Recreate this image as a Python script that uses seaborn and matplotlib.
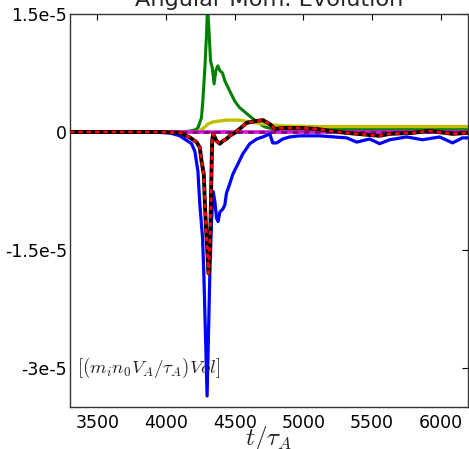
import numpy as np
import pandas as pd
import matplotlib
matplotlib.use("Agg")
import matplotlib.pyplot as plt
import seaborn as sns

# ---- data (values in units of 1e-6) ----
green_t = [3300, 4100, 4173, 4210, 4232, 4258, 4268, 4283, 4295, 4302, 4314, 4324, 4336, 4350,
           4363, 4377, 4392, 4411, 4428, 4464, 4501, 4535, 4610, 4661, 4719, 4777, 5000, 6200]
green_v = [0.0, 0.0, 0.1, 0.25, 0.5, 1.8, 4.0, 8.2, 12.5, 16.0, 12.5, 9.0, 8.2, 6.1,
           7.8, 8.4, 7.8, 7.5, 6.5, 5.2, 3.9, 3.1, 2.0, 1.3, 0.64, 0.38, 0.3, 0.3]

yellow_t = [3300, 4230, 4246, 4283, 4304, 4343, 4440, 4537, 4610, 4705, 4850, 5100, 6200]
yellow_v = [0.0, 0.0, 0.1, 0.64, 1.0, 1.27, 1.5, 1.5, 1.27, 1.0, 0.76, 0.68, 0.68]

blue_t = [3300, 3900, 4028, 4100, 4186, 4210, 4232, 4246, 4266, 4275, 4299, 4319, 4331, 4343,
          4355, 4368, 4379, 4392, 4414, 4428, 4440, 4464, 4486, 4523, 4559, 4610, 4661, 4705,
          4756, 4777, 4807, 4850, 4901, 4974, 5120, 5316, 5389, 5483, 5556, 5629, 5753, 5869,
          5993, 6087, 6160, 6200]
blue_v = [0.0, 0.0, -0.13, -0.5, -1.5, -2.5, -5.0, -9.2, -13.5, -18.0, -33.6, -18.0, -11.5, -7.6,
          -8.8, -11.0, -11.4, -10.2, -9.8, -9.3, -7.8, -6.6, -5.4, -4.1, -2.8, -1.5, -0.9, -0.64,
          -0.25, -1.4, -1.4, -0.9, -0.64, -0.5, -0.5, -0.76, -1.3, -0.9, -1.5, -1.0, -0.64, -1.0,
          -0.64, -1.4, -0.76, -0.76]

black_t = [3300, 3900, 4100, 4173, 4222, 4246, 4258, 4275, 4283, 4295, 4310, 4324, 4331, 4336,
           4343, 4368, 4392, 4414, 4440, 4464, 4501, 4537, 4588, 4661, 4705, 4756, 4792, 4850,
           4974, 5098, 5192, 5316, 5556, 5629, 5796, 5920, 6087, 6200]
black_v = [0.0, 0.0, -0.1, -0.7, -1.3, -2.0, -3.7, -5.4, -9.2, -13.5, -18.0, -11.5, -5.0, -1.1,
           -0.25, -1.15, -1.5, -1.15, -0.9, -0.5, -0.1, 0.4, 1.15, 1.4, 1.5, 1.0, 0.38, 0.5,
           0.5, 0.38, 0.13, -0.13, -0.5, -0.25, -0.13, 0.13, -0.25, -0.13]

purple_t = [3300, 4300, 5000, 6200]
purple_v = [-0.05, -0.05, -0.05, -0.05]

ytick_vals = [1.5e-5, 0.0, -1.5e-5, -3e-5]
ytick_labels = ["1.5e-5", "0", "-1.5e-5", "-3e-5"]
xtick_vals = [3500, 4000, 4500, 5000, 5500, 6000]

title = "Angular Mom. Evolution"
unit_text = r"$[(m_in_0V_A/\tau_A)Vol]$"
xlabel = r"$t/\tau_A$"


def frame(t, v):
    return pd.DataFrame({"t": t, "v": np.array(v) * 1e-6})


sns.set_style("white")
plt.rcParams["font.family"] = ["DejaVu Sans"]
plt.rcParams["mathtext.fontset"] = "cm"

fig = plt.figure(figsize=(4.69, 4.49), dpi=100)
ax = fig.add_axes([70 / 469, 42 / 449, 398 / 469, 393 / 449])

kw = dict(x="t", y="v", ax=ax, estimator=None, sort=False)
sns.lineplot(data=frame(green_t, green_v), color=(0, 0.5, 0), lw=2.2, **kw)
sns.lineplot(data=frame(yellow_t, yellow_v), color=(0.75, 0.75, 0), lw=2.4, **kw)
sns.lineplot(data=frame(purple_t, purple_v), color=(0.8, 0.1, 0.8), lw=2.6, **kw)
sns.lineplot(data=frame(purple_t, purple_v), color=(0.5, 0, 0.5), lw=2.0,
             linestyle=(0, (2.0, 2.0)), **kw)
sns.lineplot(data=frame(blue_t, blue_v), color=(0, 0, 1), lw=2.3, **kw)
sns.lineplot(data=frame(black_t, black_v), color="black", lw=2.8, **kw)
sns.lineplot(data=frame(black_t, black_v), color="red", lw=2.0,
             linestyle=(0, (1.6, 1.4)), **kw)

ax.set_xlim(3300, 6200)
ax.set_ylim(-3.5e-5, 1.5e-5)
ax.set_xticks(xtick_vals)
ax.set_xticklabels([str(v) for v in xtick_vals])
ax.set_yticks(ytick_vals)
ax.set_yticklabels(ytick_labels)
ax.tick_params(direction="in", length=4, width=0.8, top=True, right=True,
               labelsize=12.5, pad=2, colors="black")
ax.tick_params(axis="x", pad=5)
for s in ax.spines.values():
    s.set_color("#333333")
    s.set_linewidth(1.0)

ax.set_xlabel(xlabel, fontsize=18, labelpad=-6)
ax.set_ylabel("")
ax.set_title(title, fontsize=16.2, pad=5.5)
ax.text(0.018, -3e-5, unit_text, transform=ax.get_yaxis_transform(),
        fontsize=13.6, va="center", ha="left")

fig.savefig("out.png", dpi=100)
